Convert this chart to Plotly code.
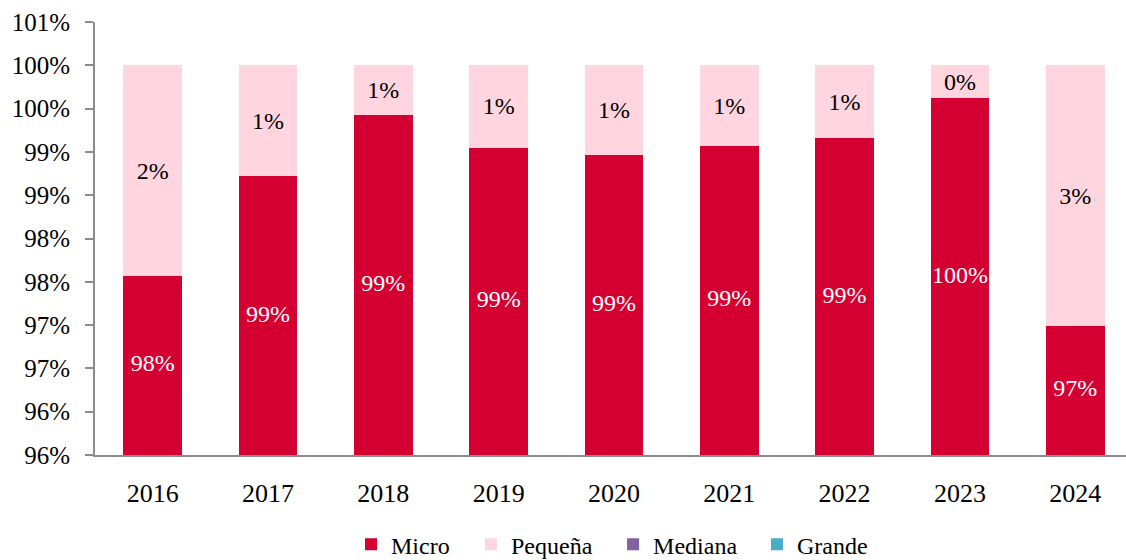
import plotly.graph_objects as go

years = ["2016", "2017", "2018", "2019", "2020", "2021", "2022", "2023", "2024"]
micro = [0.9757, 0.9872, 0.9943, 0.9905, 0.9896, 0.9907, 0.9916, 0.9962, 0.9699]
pequena = [0.0243, 0.0128, 0.0057, 0.0095, 0.0104, 0.0093, 0.0084, 0.0038, 0.0301]
mediana = [0, 0, 0, 0, 0, 0, 0, 0, 0]
grande = [0, 0, 0, 0, 0, 0, 0, 0, 0]
micro_labels = ["98%", "99%", "99%", "99%", "99%", "99%", "99%", "100%", "97%"]
pequena_labels = ["2%", "1%", "1%", "1%", "1%", "1%", "1%", "0%", "3%"]
ytick_vals = [0.955, 0.96, 0.965, 0.97, 0.975, 0.98, 0.985, 0.99, 0.995, 1.0, 1.005]
ytick_text = ["96%", "96%", "97%", "97%", "98%", "98%", "99%", "99%", "100%", "100%", "101%"]

FONT = "Liberation Serif"
Y_MIN, Y_MAX = 0.955, 1.005

series = [
    ("Micro", micro, "#D50032"),
    ("Pequeña", pequena, "#FFD6DF"),
    ("Mediana", mediana, "#8064A2"),
    ("Grande", grande, "#4BACC6"),
]
legend_x = [0.2483, 0.3647, 0.5025, 0.6421]

fig = go.Figure()
for i, (name, vals, color) in enumerate(series):
    kw = {}
    if name == "Pequeña":
        kw = dict(text=pequena_labels, textposition="inside", insidetextanchor="middle",
                  textfont=dict(color="black", size=24, family=FONT),
                  constraintext="none", textangle=0)
    fig.add_trace(go.Bar(
        x=years, y=vals, name=name,
        marker=dict(color=color, line=dict(width=0)),
        width=0.51, legend="legend" if i == 0 else f"legend{i+1}",
        hoverinfo="skip", **kw,
    ))

# Micro labels centred on the visible part of each bar
fig.add_trace(go.Scatter(
    x=years, y=[(Y_MIN + v) / 2 for v in micro], mode="text", text=micro_labels,
    textposition="middle center", textfont=dict(color="white", size=24, family=FONT),
    showlegend=False, hoverinfo="skip", cliponaxis=False,
))

layout_legends = {}
for i, lx in enumerate(legend_x):
    key = "legend" if i == 0 else f"legend{i+1}"
    layout_legends[key] = dict(orientation="h", x=lx, xanchor="left", y=-0.207,
                               yanchor="middle", font=dict(size=24, family=FONT),
                               bgcolor="rgba(0,0,0,0)")

fig.update_layout(
    barmode="stack",
    width=1126, height=560,
    margin=dict(l=95, r=0, t=22, b=105, autoexpand=False),
    plot_bgcolor="white", paper_bgcolor="white",
    font=dict(family=FONT, size=24, color="black"),
    showlegend=True,
    xaxis=dict(
        type="category", range=[-0.5, 8.44], automargin=False,
        showline=True, linecolor="#8C8C8C", linewidth=2,
        ticks="", showgrid=False, ticklabelstandoff=14,
        tickfont=dict(size=26, family=FONT),
    ),
    yaxis=dict(
        range=[Y_MIN, Y_MAX], tickvals=ytick_vals, ticktext=ytick_text, automargin=False,
        showline=True, linecolor="#8C8C8C", linewidth=2,
        ticks="outside", ticklen=8, tickcolor="#8C8C8C", tickwidth=2,
        showgrid=False, zeroline=False, ticklabelstandoff=10,
        tickfont=dict(size=25, family=FONT),
    ),
    **layout_legends,
)

fig.write_html("out.html", config={"displayModeBar": False},
               post_script="document.body.style.margin='0px';")
